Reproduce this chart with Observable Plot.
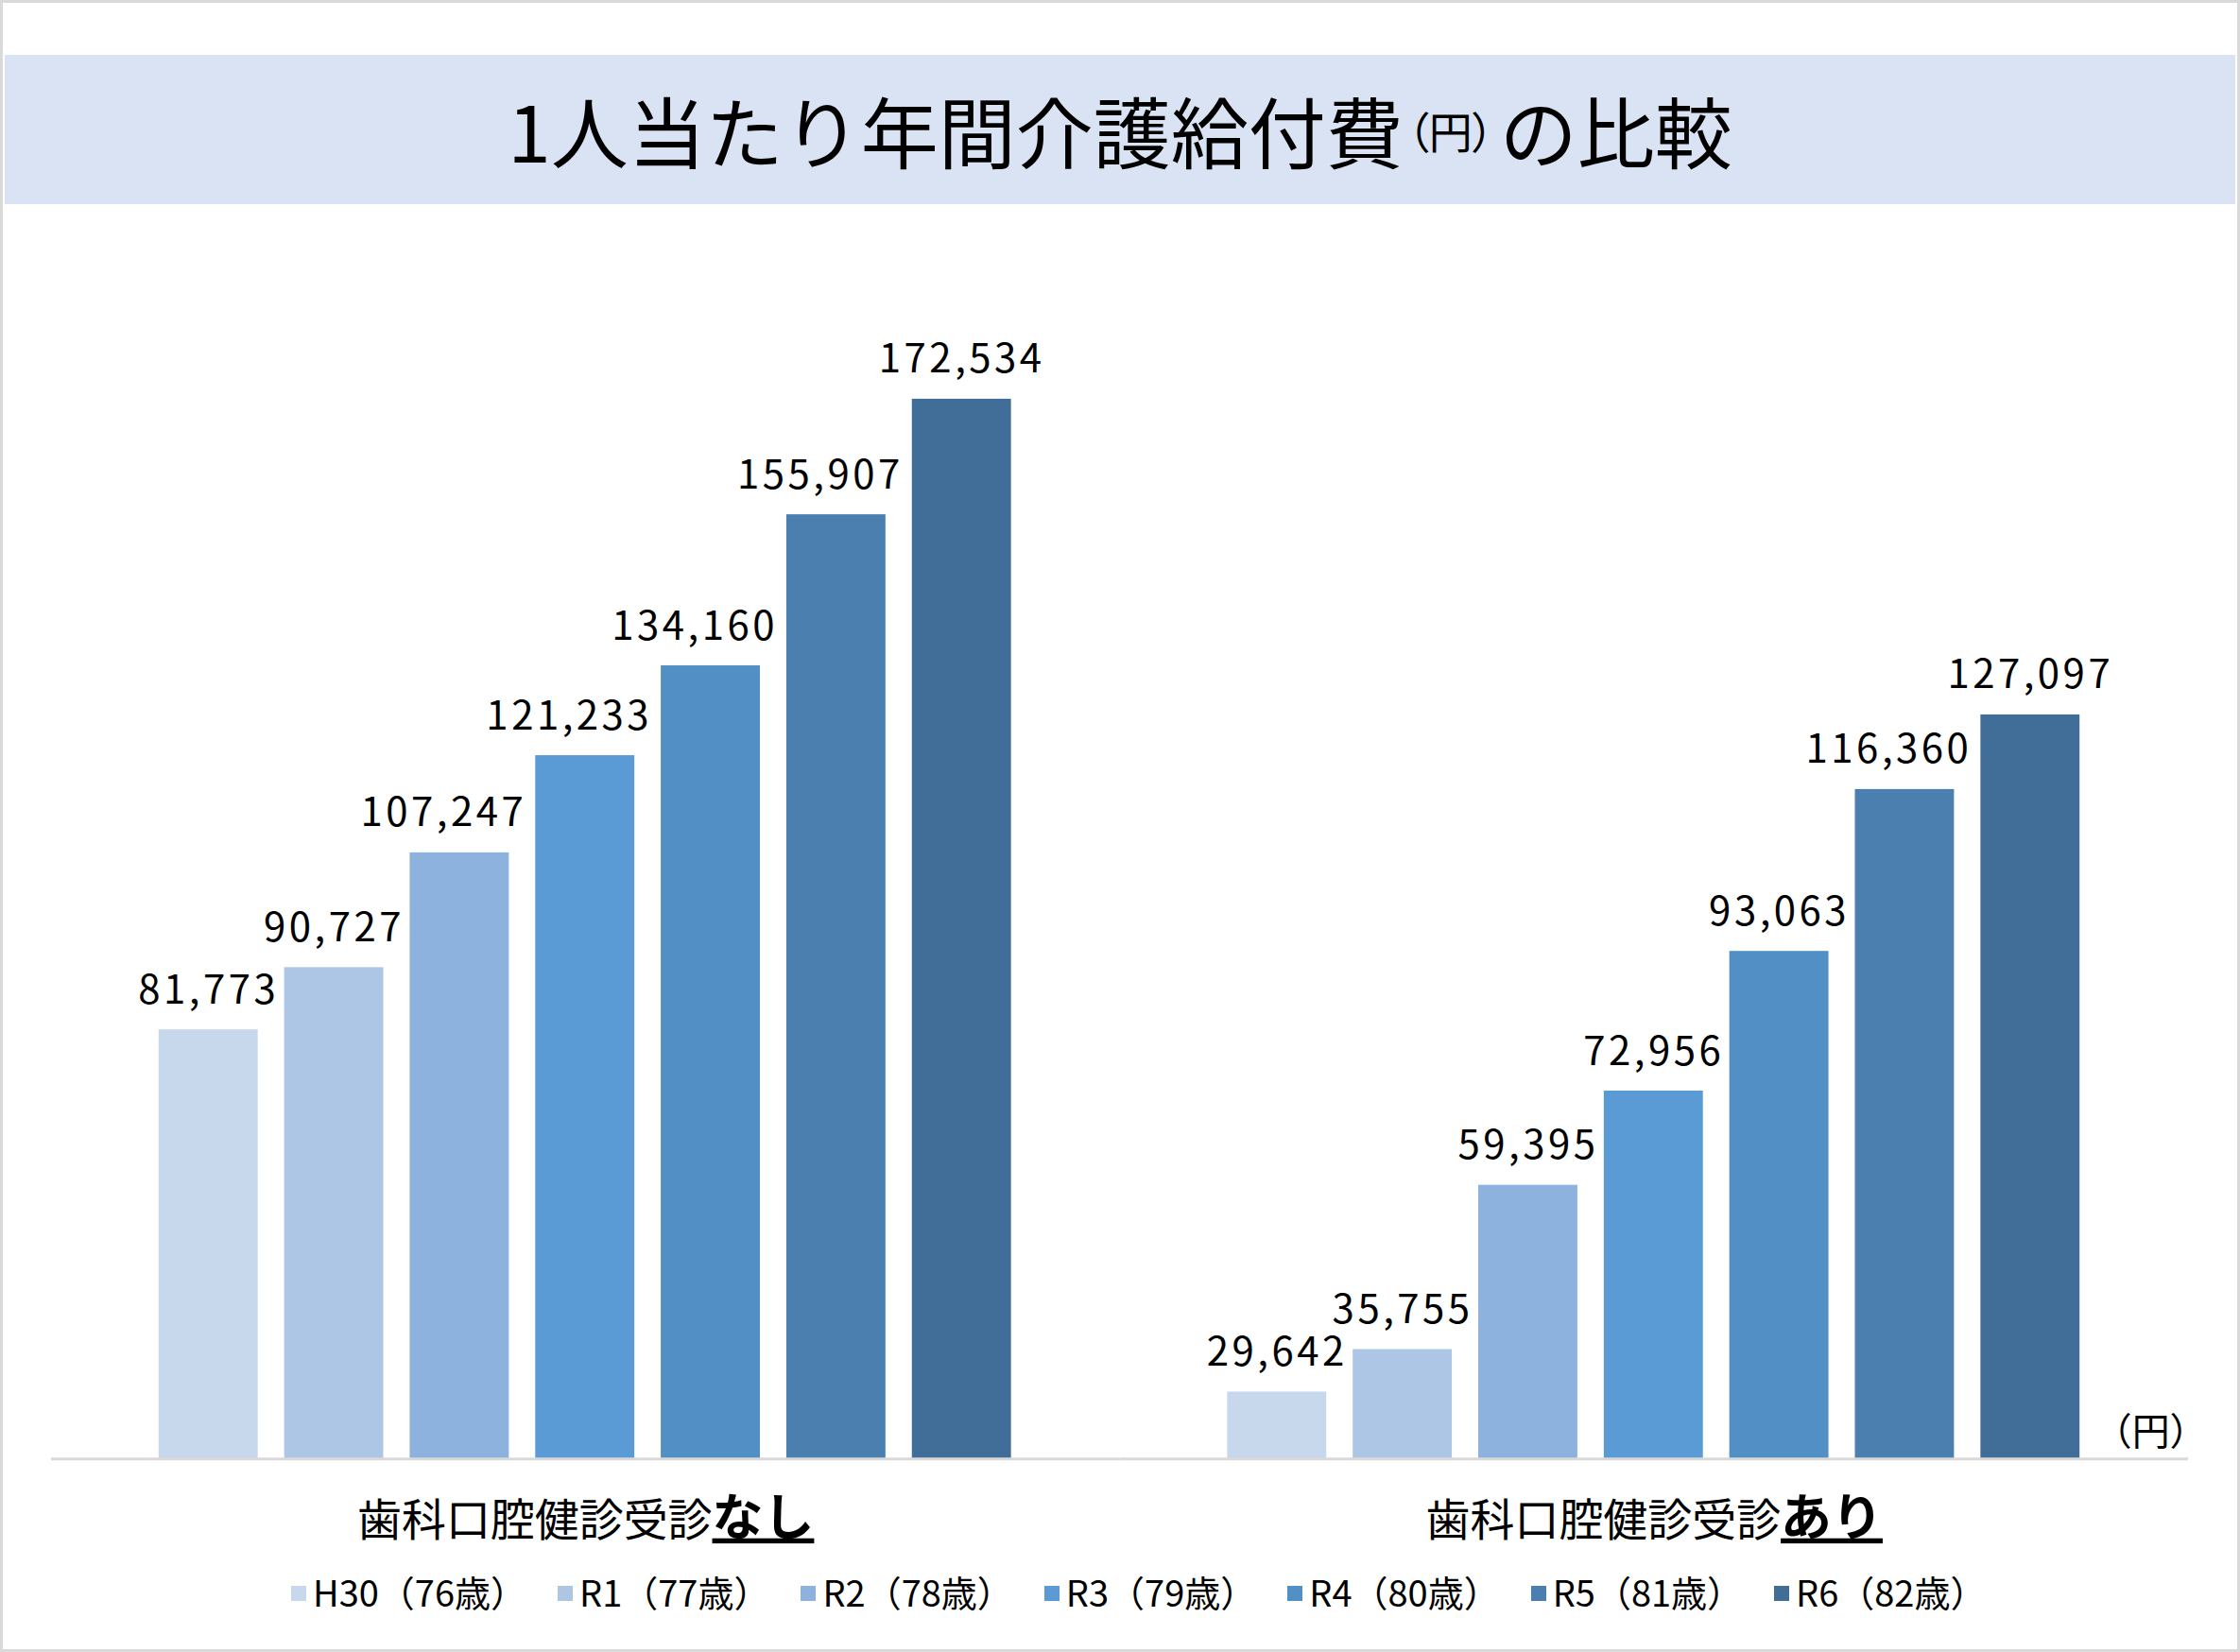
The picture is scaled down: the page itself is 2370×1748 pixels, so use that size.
<!DOCTYPE html>
<html lang="ja">
<head>
<meta charset="utf-8">
<script src="https://cdn.jsdelivr.net/npm/d3@7"></script>
<script src="https://cdn.jsdelivr.net/npm/@observablehq/plot@0.6"></script>
<style>
  html, body { margin: 0; padding: 0; background: #fff; }
  #page {
    position: relative; width: 2370px; height: 1748px; box-sizing: border-box;
    border: 3px solid #d9d9d9; background: #fff; overflow: hidden;
    font-family: "Noto Sans CJK JP", "Noto Sans", sans-serif; color: #000;
  }
  #title {
    position: absolute; left: 2px; top: 55px; width: 2360px; height: 158px;
    background: #dae3f3; display: flex; align-items: center; justify-content: center;
    font-size: 82px; line-height: 1; white-space: nowrap;
  }
  #title .unit { font-size: 46px; font-feature-settings: "palt"; margin: 0 6px 0 4px; }
  #chart { position: absolute; left: -3px; top: 213px; }
  #legend {
    position: absolute; left: 305px; top: 1662px;
    display: flex; justify-content: flex-start; align-items: center; gap: 33px;
    font-size: 38px; line-height: 38px; white-space: nowrap;
  }
  #legend .item { display: flex; align-items: center; }
  #legend .swatch { display: inline-block; width: 16px; height: 16px; margin-right: 7px; position: relative; top: 2px; }
</style>
</head>
<body>
<div id="page">
  <div id="title"></div>
  <div id="chart"></div>
  <div id="legend"></div>
</div>
<script>
// Annual long-term care benefit cost per person, by dental check-up status
const titleMain = "1人当たり年間介護給付費";
const titleUnit = "（円）";
const titleTail = "の比較";
const unitLabel = "（円）";

const groups = ["歯科口腔健診受診なし", "歯科口腔健診受診あり"];
const series = ["H30（76歳）", "R1（77歳）", "R2（78歳）", "R3（79歳）", "R4（80歳）", "R5（81歳）", "R6（82歳）"];
const withoutCheckup = [81773, 90727, 107247, 121233, 134160, 155907, 172534];
const withCheckup = [29642, 35755, 59395, 72956, 93063, 116360, 127097];
const seriesColors = ["#c7d8ed", "#aec6e5", "#8db2dd", "#5b9bd5", "#528fc4", "#4a7fb0", "#416e98"];

// value axis runs from 20,000 to 200,000 yen
const axisMin = 20000;
const axisMax = 200000;

const rows = [
  ...series.map((s, i) => ({group: groups[0], series: s, value: withoutCheckup[i]})),
  ...series.map((s, i) => ({group: groups[1], series: s, value: withCheckup[i]}))
];

const fmt = d3.format(",");
const isValueLabel = t => /^[\d,]+$/.test(t);

// title
const title = d3.select("#title");
title.append("span").text(titleMain);
title.append("span").attr("class", "unit").text(titleUnit);
title.append("span").text(titleTail);

const chart = Plot.plot({
  width: 2370,
  height: 1440,
  marginLeft: 53,
  marginRight: 52,
  marginTop: 4,
  marginBottom: 111,
  style: {fontFamily: "'Noto Sans CJK JP', 'Noto Sans', sans-serif", fontSize: "42px", color: "#000", background: "transparent", overflow: "visible"},
  fx: {domain: groups, padding: 0, axis: null},
  x: {domain: series, paddingInner: 0.21, paddingOuter: 0.85, axis: null},
  y: {domain: [axisMin, axisMax], axis: null},
  color: {domain: series, range: seriesColors},
  marks: [
    Plot.barY(rows, {fx: "group", x: "series", y1: axisMin, y2: "value", fill: "series"}),
    Plot.ruleY([axisMin], {stroke: "#d9d9d9", strokeWidth: 3}),
    Plot.text(rows, {
      fx: "group", x: "series", y: "value", text: d => fmt(d.value),
      lineAnchor: "bottom", dy: -28, fontSize: 42, fill: "#000"
    }),
    Plot.text(groups, {
      fx: d => d, frameAnchor: "bottom", text: d => d,
      lineAnchor: "bottom", dy: 81, fontSize: 47, fill: "#000"
    }),
    Plot.text([groups[1]], {
      fx: d => d, frameAnchor: "bottom-right", text: () => unitLabel,
      lineAnchor: "bottom", textAnchor: "end", dx: 20, dy: -15, fontSize: 40, fill: "#000"
    })
  ]
});

document.getElementById("chart").appendChild(chart);

// digits in the value labels are set a little apart
d3.select(chart).selectAll("text").each(function () {
  if (isValueLabel(this.textContent)) this.style.letterSpacing = "3.5px";
});

// a value label that would run into the next (taller) bar is slid left to clear it
const bars = Array.from(chart.querySelectorAll('g[aria-label="bar"] rect'))
  .map(r => r.getBoundingClientRect())
  .sort((a, b) => a.left - b.left);
const clearance = 9;
d3.select(chart).selectAll("text").each(function () {
  if (!isValueLabel(this.textContent)) return;
  const box = this.getBoundingClientRect();
  const cx = (box.left + box.right) / 2;
  const own = d3.minIndex(bars, b => Math.abs((b.left + b.right) / 2 - cx));
  const next = bars[own + 1];
  if (!next || next.left - bars[own].right > bars[own].width) return;
  if (box.right > next.left) {
    const shift = next.left - clearance - box.right;
    this.setAttribute("transform", `${this.getAttribute("transform") || ""} translate(${shift},0)`);
  }
});

// category labels: emphasise the trailing なし / あり
d3.select(chart).selectAll("text").each(function () {
  const t = this.textContent;
  if (!groups.includes(t)) return;
  const head = t.slice(0, -2);
  const tail = t.slice(-2);
  this.textContent = "";
  const sel = d3.select(this);
  sel.append("tspan").text(head);
  sel.append("tspan")
    .text(tail)
    .style("font-size", "54px")
    .style("font-weight", "bold")
    .style("text-decoration", "underline")
    .style("text-decoration-thickness", "3px")
    .style("text-underline-offset", "4px");
});

// legend from the chart's colour scale
const cs = chart.scale("color");
const colorOf = s => cs.range[cs.domain.indexOf(s)];
const legend = d3.select("#legend");
series.forEach(s => {
  const item = legend.append("div").attr("class", "item");
  item.append("span").attr("class", "swatch").style("background", colorOf(s));
  item.append("span").text(s);
});
</script>
</body>
</html>
